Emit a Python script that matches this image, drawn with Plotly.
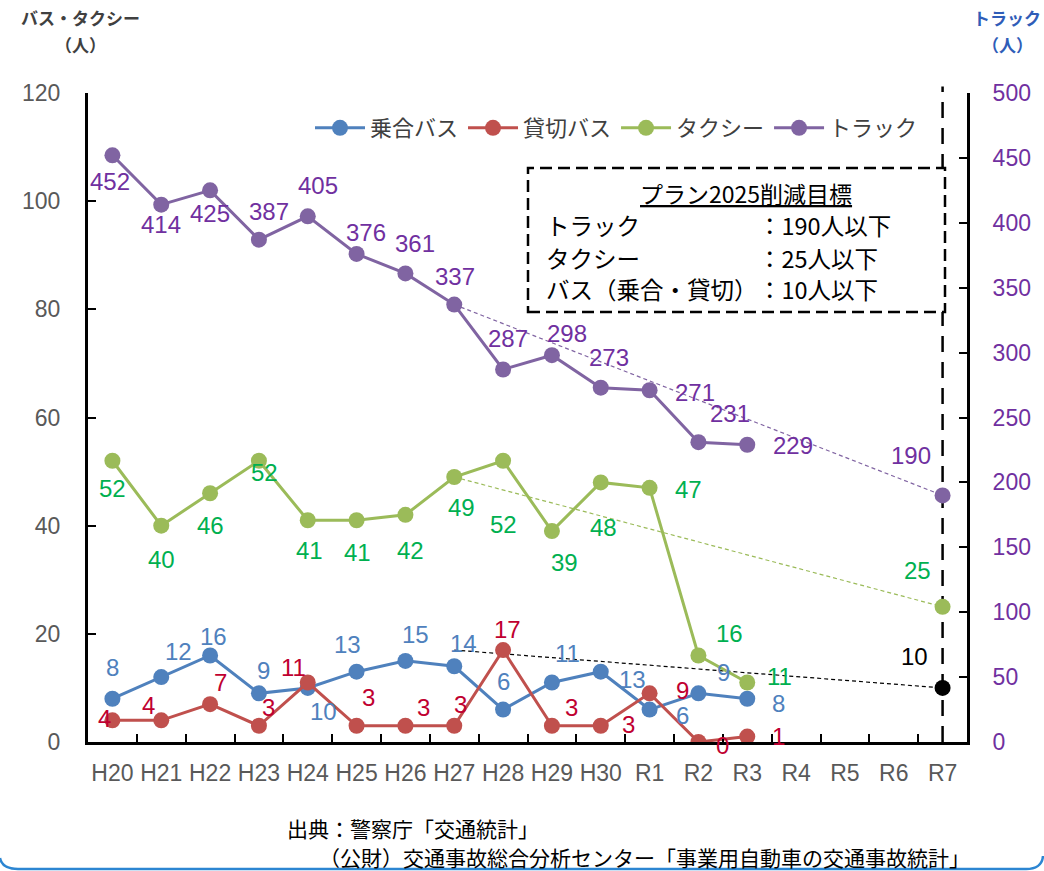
import plotly.graph_objects as go

# ---- data -------------------------------------------------------------
years = ["H20", "H21", "H22", "H23", "H24", "H25", "H26", "H27", "H28",
         "H29", "H30", "R1", "R2", "R3", "R4", "R5", "R6", "R7"]
obs_years = years[:14]

noriai_bus = [8, 12, 16, 9, 10, 13, 15, 14, 6, 11, 13, 6, 9, 8]
kashikiri_bus = [4, 4, 7, 3, 11, 3, 3, 3, 17, 3, 3, 9, 0, 1]
taxi = [52, 40, 46, 52, 41, 41, 42, 49, 52, 39, 48, 47, 16, 11]
truck = [452, 414, 425, 387, 405, 376, 361, 337, 287, 298, 273, 271, 231, 229]

# reduction targets (plan 2025): from H27 actuals to R7 goals
plan_years = ["H27", "R7"]
truck_plan = [337, 190]
taxi_plan = [49, 25]
bus_plan = [17, 10]          # 乗合+貸切 combined

# ---- styling ----------------------------------------------------------
NUM_FONT = "Liberation Sans, Arial, sans-serif"
JP_FONT = "Noto Sans CJK JP, sans-serif"

BLUE, BLUE_T = "#4F81BD", "#4F81BD"
RED, RED_T = "#C0504D", "#C00030"
GREEN, GREEN_T = "#9BBB59", "#00B050"
PURPLE, PURPLE_T = "#8064A2", "#7030A0"

# label offsets in px (dx, dy; dy > 0 is upward)
off_noriai = [(0, 31), (17, 26), (3, 19), (5, 23), (16, -24), (-9, 27), (10, 26),
              (9, 23), (0, 28), (16, 29), (32, -8), (33, -6), (25, 21), (31, -5)]
off_kashikiri = [(-8, 2), (-13, 15), (10, 22), (10, 18), (-14, 15), (12, 28), (18, 18),
                 (6, 21), (4, 21), (20, 18), (28, 1), (33, 3), (24, -3), (31, 0)]
off_taxi = [(0, -28), (0, -34), (0, -32), (6, -12), (2, -30), (1, -32), (5, -36),
            (7, -31), (0, -64), (13, -31), (3, -45), (39, -2), (31, 22), (32, 6)]
off_truck = [(-2, -26), (0, -20), (0, -23), (10, 28), (10, 31), (9, 21), (10, 30),
             (1, 28), (5, 31), (15, 22), (8, 30), (45, -2), (32, 29), (46, -1)]

fig = go.Figure()

# keeps every fiscal year on the category axis
fig.add_trace(go.Scatter(x=years, y=[None] * len(years), mode="lines",
                         showlegend=False, hoverinfo="skip"))


def series(name, y, line_color, axis="y"):
    fig.add_trace(go.Scatter(
        x=obs_years, y=y, name=name, mode="lines+markers", yaxis=axis,
        line=dict(color=line_color, width=3),
        marker=dict(color=line_color, size=16),
    ))


def plan(y, color, axis="y", marker_color=None):
    fig.add_trace(go.Scatter(
        x=plan_years, y=y, mode="lines", yaxis=axis, showlegend=False,
        line=dict(color=color, width=1.2, dash="4px,3px"), hoverinfo="skip",
    ))
    fig.add_trace(go.Scatter(
        x=plan_years[-1:], y=y[-1:], mode="markers", yaxis=axis, showlegend=False,
        marker=dict(color=marker_color or color, size=16),
    ))


plan(truck_plan, PURPLE, "y2")
plan(taxi_plan, GREEN)
plan(bus_plan, "#000000")

series("乗合バス", noriai_bus, BLUE)
series("貸切バス", kashikiri_bus, RED)
series("タクシー", taxi, GREEN)
series("トラック", truck, PURPLE, "y2")

annotations = []


def labels(xs, ys, offs, color, yref="y"):
    for x, v, (dx, dy) in zip(xs, ys, offs):
        annotations.append(dict(
            x=x, y=v, xref="x", yref=yref, text=str(v), showarrow=False,
            xshift=dx, yshift=dy, font=dict(family=NUM_FONT, size=24, color=color),
        ))


labels(obs_years, noriai_bus, off_noriai, BLUE_T)
labels(obs_years, kashikiri_bus, off_kashikiri, RED_T)
labels(obs_years, taxi, off_taxi, GREEN_T)
labels(obs_years, truck, off_truck, PURPLE_T, "y2")
labels(plan_years[-1:], truck_plan[-1:], [(-32, 40)], PURPLE_T, "y2")
labels(plan_years[-1:], taxi_plan[-1:], [(-25, 36)], GREEN_T)
labels(plan_years[-1:], bus_plan[-1:], [(-28, 31)], "#000000")


# pixel -> paper helpers for the fixed plot frame
L, R, T, B = 88, 967, 93, 742


def px(x):
    return (x - L) / (R - L)


def py(y):
    return (B - y) / (B - T)


def note(x, y, text, font, anchor="center"):
    annotations.append(dict(
        x=px(x), y=py(y), xref="paper", yref="paper", xanchor=anchor,
        yanchor="middle", text=text, showarrow=False, borderpad=0, font=font,
    ))


# axis titles
left_title = dict(family=JP_FONT, size=17, color="#404040")
right_title = dict(family=JP_FONT, size=17, color="#2F5DB8")
note(80, 18, "<b>バス・タクシー</b>", left_title)
note(80, 44, "<b>（人）</b>", left_title)
note(1007, 18, "<b>トラック</b>", right_title)
note(1007, 44, "<b>（人）</b>", right_title)

# target box text
box_font = dict(family=JP_FONT, size=23.5, color="#000000")
note(746, 193, "<u>プラン2025削減目標</u>", dict(family=JP_FONT, size=23, color="#000000"))
for row_y, left, right in [(225, "トラック", "：190人以下"),
                           (258, "タクシー", "：25人以下"),
                           (289, "バス（乗合・貸切）", "：10人以下")]:
    note(545, row_y, left, box_font, "left")
    note(757, row_y, right, box_font, "left")

# source note
src_font = dict(family=JP_FONT, size=21, color="#000000")
note(286, 828, "出典：警察庁「交通統計」", src_font, "left")
note(318, 857, "（公財）交通事故総合分析センター「事業用自動車の交通事故統計」", src_font, "left")

shapes = [
    # R7 target marker line
    dict(type="line", xref="x", yref="paper", x0="R7", x1="R7", y0=0, y1=1.01,
         line=dict(color="#000000", width=2.5, dash="16px,10px"), layer="below"),
    # target box
    dict(type="rect", xref="paper", yref="paper", x0=px(528), x1=px(945),
         y0=py(312), y1=py(168), line=dict(color="#000000", width=2.5, dash="12px,6px"),
         fillcolor="rgba(255,255,255,1)", layer="below"),
    # page frame bottom edge
    dict(type="path", xref="paper", yref="paper",
         path=(f"M {px(0)},{py(858)} Q {px(2)},{py(869)} {px(18)},{py(869)} "
               f"L {px(1026)},{py(869)} Q {px(1042)},{py(869)} {px(1043)},{py(856)}"),
         line=dict(color="#2C86D2", width=2.5)),
]

fig.update_layout(
    width=1044, height=871,
    margin=dict(l=L, r=1044 - R, t=T, b=871 - B),
    paper_bgcolor="#FFFFFF", plot_bgcolor="rgba(0,0,0,0)",
    showlegend=True,
    legend=dict(orientation="h", x=px(310), y=py(128), xanchor="left", yanchor="middle",
                bgcolor="rgba(0,0,0,0)", itemwidth=50,
                font=dict(family=JP_FONT, size=22, color="#404040")),
    xaxis=dict(type="category", categoryorder="array", categoryarray=years,
               range=[-0.5, len(years) - 0.5], tickson="boundaries", tickangle=0,
               ticks="inside", ticklen=8, tickwidth=2, tickcolor="#000000",
               showline=True, linecolor="#000000", linewidth=3, showgrid=False,
               zeroline=False, ticklabelstandoff=8,
               tickfont=dict(family=NUM_FONT, size=23, color="#595959")),
    yaxis=dict(range=[0, 120], dtick=20, ticks="inside", ticklen=8, tickwidth=2,
               tickcolor="#000000", showline=True, linecolor="#000000", linewidth=3,
               showgrid=False, zeroline=False, ticklabelstandoff=20,
               tickfont=dict(family=NUM_FONT, size=23, color="#595959")),
    yaxis2=dict(range=[0, 500], dtick=50, overlaying="y", side="right",
                ticks="inside", ticklen=8, tickwidth=2, tickcolor="#000000",
                showline=True, linecolor="#000000", linewidth=3, showgrid=False,
                zeroline=False, ticklabelstandoff=18,
                tickfont=dict(family=NUM_FONT, size=23, color=PURPLE_T)),
    annotations=annotations,
    shapes=shapes,
)

fig.write_html("out.html")
